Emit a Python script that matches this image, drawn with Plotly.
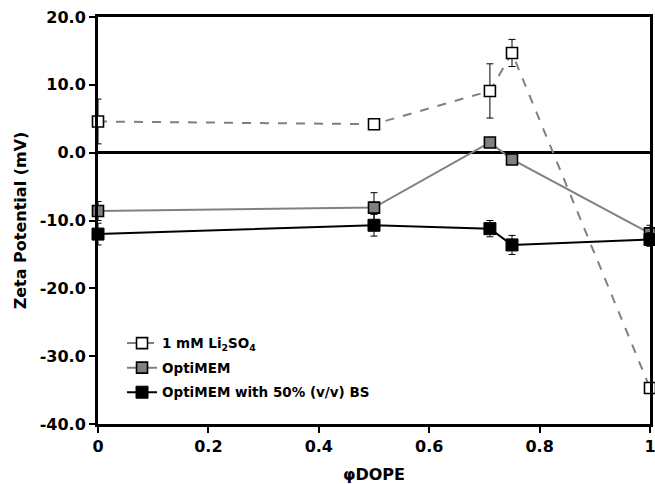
import plotly.graph_objects as go

phi_dope = [0, 0.5, 0.71, 0.75, 1]

li2so4 = [4.6, 4.2, 9.1, 14.7, -34.7]
li2so4_err = [3.3, 0.3, 4.0, 2.0, 0.3]

optimem = [-8.6, -8.1, 1.5, -1.0, -11.9]
optimem_err = [1.4, 2.2, 0.3, 0.3, 1.2]

optimem_bs = [-12.0, -10.7, -11.2, -13.6, -12.8]
optimem_bs_err = [1.6, 1.6, 1.2, 1.4, 1.0]

names = ["1 mM Li<sub>2</sub>SO<sub>4</sub>", "OptiMEM", "OptiMEM with 50% (v/v) BS"]
x_tickvals = [0, 0.2, 0.4, 0.6, 0.8, 1]
x_ticktext = ["0", "0.2", "0.4", "0.6", "0.8", "1"]
y_tickvals = [-40, -30, -20, -10, 0, 10, 20]
y_ticktext = ["-40.0", "-30.0", "-20.0", "-10.0", "0.0", "10.0", "20.0"]

FONT = "DejaVu Sans"

fig = go.Figure()

def err(vals):
    return dict(type="data", array=vals, visible=True, color="black",
                thickness=1, width=3.5)

fig.add_trace(go.Scatter(
    x=phi_dope, y=li2so4, name=names[0], mode="lines+markers",
    line=dict(color="#808080", width=2, dash="dash"),
    marker=dict(symbol="square", size=11, color="white",
                line=dict(color="black", width=1.6)),
    error_y=err(li2so4_err), cliponaxis=False, legendgroup="a"))

fig.add_trace(go.Scatter(
    x=phi_dope, y=optimem, name=names[1], mode="lines+markers",
    line=dict(color="#808080", width=2),
    marker=dict(symbol="square", size=11, color="#808080",
                line=dict(color="black", width=1.6)),
    error_y=err(optimem_err), cliponaxis=False, legendgroup="b"))

fig.add_trace(go.Scatter(
    x=phi_dope, y=optimem_bs, name=names[2], mode="lines+markers",
    line=dict(color="black", width=2),
    marker=dict(symbol="square", size=12, color="black",
                line=dict(color="black", width=1)),
    error_y=err(optimem_bs_err), cliponaxis=False, legendgroup="c"))

fig.update_layout(
    width=655, height=484,
    margin=dict(l=98, r=5, t=17, b=60),
    paper_bgcolor="white", plot_bgcolor="white",
    font=dict(family=FONT, size=16, color="black", weight="bold"),
    showlegend=True,
    legend=dict(x=0.0435, y=0.138, xanchor="left", yanchor="middle",
                bgcolor="rgba(0,0,0,0)", borderwidth=0,
                font=dict(family=FONT, size=13.5, color="black", weight="bold"),
                traceorder="grouped", tracegroupgap=4, itemwidth=30),
    xaxis=dict(range=[0, 1], tickvals=x_tickvals, ticktext=x_ticktext,
               automargin=False, ticklabeloverflow="allow",
               showgrid=False, zeroline=False,
               showline=True, linecolor="black", linewidth=3, mirror=True,
               ticks="outside", ticklen=6, tickwidth=2, tickcolor="black",
               title=dict(text="φDOPE", font=dict(family=FONT, size=16, weight="bold"), standoff=15)),
    yaxis=dict(range=[-40, 20], tickvals=y_tickvals, ticktext=y_ticktext,
               automargin=False,
               showgrid=False, zeroline=True, zerolinecolor="black", zerolinewidth=3,
               showline=True, linecolor="black", linewidth=3, mirror=True,
               ticks="outside", ticklen=6, tickwidth=2, tickcolor="black",
               title=dict(text="Zeta Potential (mV)", font=dict(family=FONT, size=16, weight="bold"), standoff=10)),
)

fig.write_html("out.html", config={"displayModeBar": False},
               post_script="document.body.style.margin='0';document.body.style.overflow='hidden';")
